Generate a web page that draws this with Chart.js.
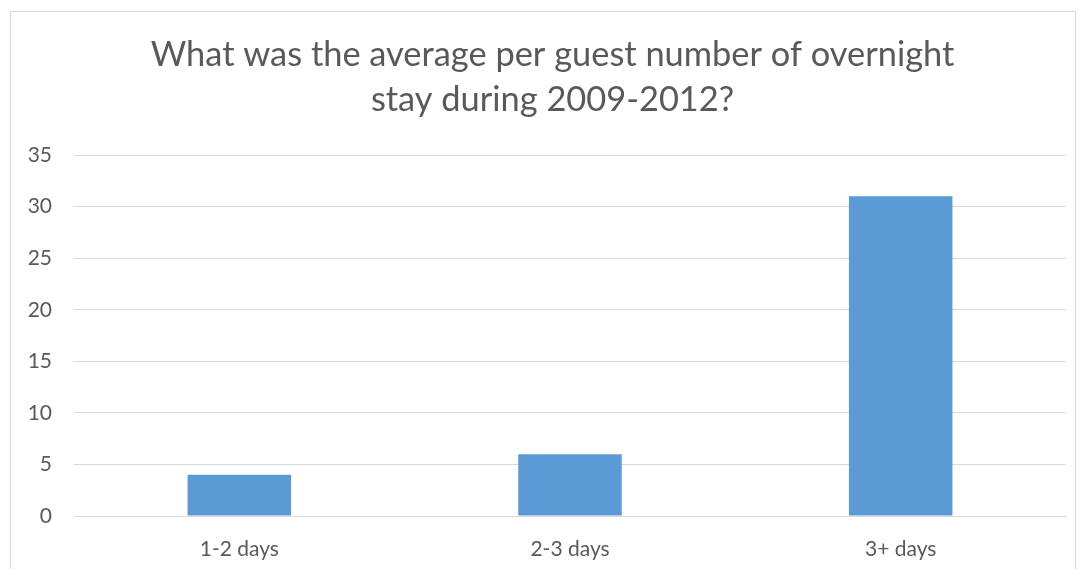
<!DOCTYPE html>
<html>
<head>
<meta charset="utf-8">
<script src="https://cdn.jsdelivr.net/npm/chart.js@4"></script>
<style>
    html, body { margin: 0; padding: 0; background: #fff; overflow: hidden; }
    #frame {
        position: absolute; left: 10px; top: 11px;
        width: 1064px; height: 580px;
        border: 1px solid #d9d9d9;
    }
    #chart { display: block; }
</style>
</head>
<body>
<div id="frame"><canvas id="chart" width="1064" height="557"></canvas></div>
<script>
"use strict";

const titleLines = ["What was the average per guest number of overnight", "stay during 2009-2012?"];
const categories = ["1-2 days", "2-3 days", "3+ days"];
const guestCounts = [4, 6, 31];
const yMin = 0;
const yMax = 35;
const yStep = 5;

const textGrey = "#595959";
const gridGrey = "#d9d9d9";
const barBlue = "#5b9bd5";

const ctx = document.getElementById("chart").getContext("2d");

// the original title sits a bit right of the canvas centre
const titleShift = {
    id: "titleShift",
    afterLayout(chart) {
        if (chart.titleBlock) chart.titleBlock.left += 28;
    }
};

const chart = new Chart(ctx, {
    type: "bar",
    data: {
        labels: categories,
        datasets: [{
            label: "Guests",
            data: guestCounts,
            backgroundColor: barBlue,
            borderWidth: 0,
            categoryPercentage: 1,
            barPercentage: 0.313
        }]
    },
    options: {
        responsive: false,
        animation: false,
        layout: { padding: { left: 0, right: 9, top: 0, bottom: 0 } },
        plugins: {
            legend: { display: false },
            tooltip: { enabled: false },
            title: {
                display: true,
                text: titleLines,
                color: textGrey,
                font: { family: "Lato", size: 34.4, weight: "normal", lineHeight: 1.31 },
                padding: { top: 20, bottom: 33 }
            }
        },
        scales: {
            x: {
                grid: { display: false },
                border: { display: true, color: gridGrey, width: 1 },
                ticks: { color: textGrey, font: { family: "Lato", size: 21 }, padding: 13 },
                afterFit: (scale) => { scale.height = 53; }
            },
            y: {
                min: yMin,
                max: yMax,
                grid: { color: gridGrey, drawTicks: false },
                border: { display: false },
                ticks: { stepSize: yStep, color: textGrey, font: { family: "Lato", size: 21 }, padding: 22 },
                afterFit: (scale) => { scale.width = 63; }
            }
        }
    },
    plugins: [titleShift]
});
</script>
</body>
</html>
